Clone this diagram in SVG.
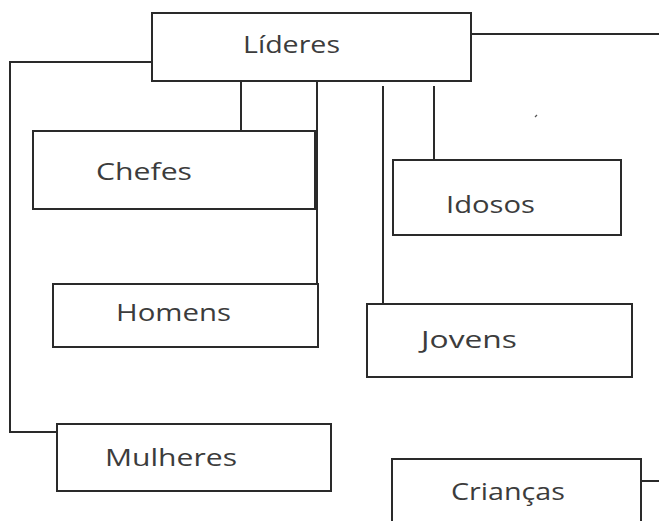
<svg xmlns="http://www.w3.org/2000/svg" width="659" height="521" viewBox="0 0 659 521">
<style>
.box{fill:#fff;stroke:#2a2a2a;stroke-width:2}
.c{fill:none;stroke:#2a2a2a;stroke-width:2}
text{font-family:"Open Sans","Noto Sans",sans-serif;font-size:23px;fill:#3c3c3c}
</style>
<rect width="659" height="521" fill="#fff"/>
<g id="connectors">
<path class="c" d="M472 34H659"/>
<path class="c" d="M155 62H10V432H57"/>
<path class="c" d="M241 82V131"/>
<path class="c" d="M317 82V284"/>
<path class="c" d="M383 86V304"/>
<path class="c" d="M434 86V160"/>
<path class="c" d="M641 481H659"/>
<path d="M535 117L537 115" stroke="#555" stroke-width="1.2"/>
</g>
<g id="lideres"><rect class="box" x="152" y="13" width="319" height="68"/><text x="243" y="53" textLength="97" lengthAdjust="spacingAndGlyphs">Líderes</text></g>
<g id="chefes"><rect class="box" x="33" y="131" width="282" height="78"/><text x="96" y="180" textLength="96" lengthAdjust="spacingAndGlyphs">Chefes</text></g>
<g id="idosos"><rect class="box" x="393" y="160" width="228" height="75"/><text x="446" y="213" textLength="89" lengthAdjust="spacingAndGlyphs">Idosos</text></g>
<g id="homens"><rect class="box" x="53" y="284" width="265" height="63"/><text x="116" y="321" textLength="115" lengthAdjust="spacingAndGlyphs">Homens</text></g>
<g id="jovens"><rect class="box" x="367" y="304" width="265" height="73"/><text x="421" y="348" textLength="96" lengthAdjust="spacingAndGlyphs">Jovens</text></g>
<g id="mulheres"><rect class="box" x="57" y="424" width="274" height="67"/><text x="105" y="466" textLength="132" lengthAdjust="spacingAndGlyphs">Mulheres</text></g>
<g id="criancas"><rect class="box" x="392" y="459" width="249" height="80"/><text x="451" y="500" textLength="114" lengthAdjust="spacingAndGlyphs">Crianças</text></g>
</svg>
